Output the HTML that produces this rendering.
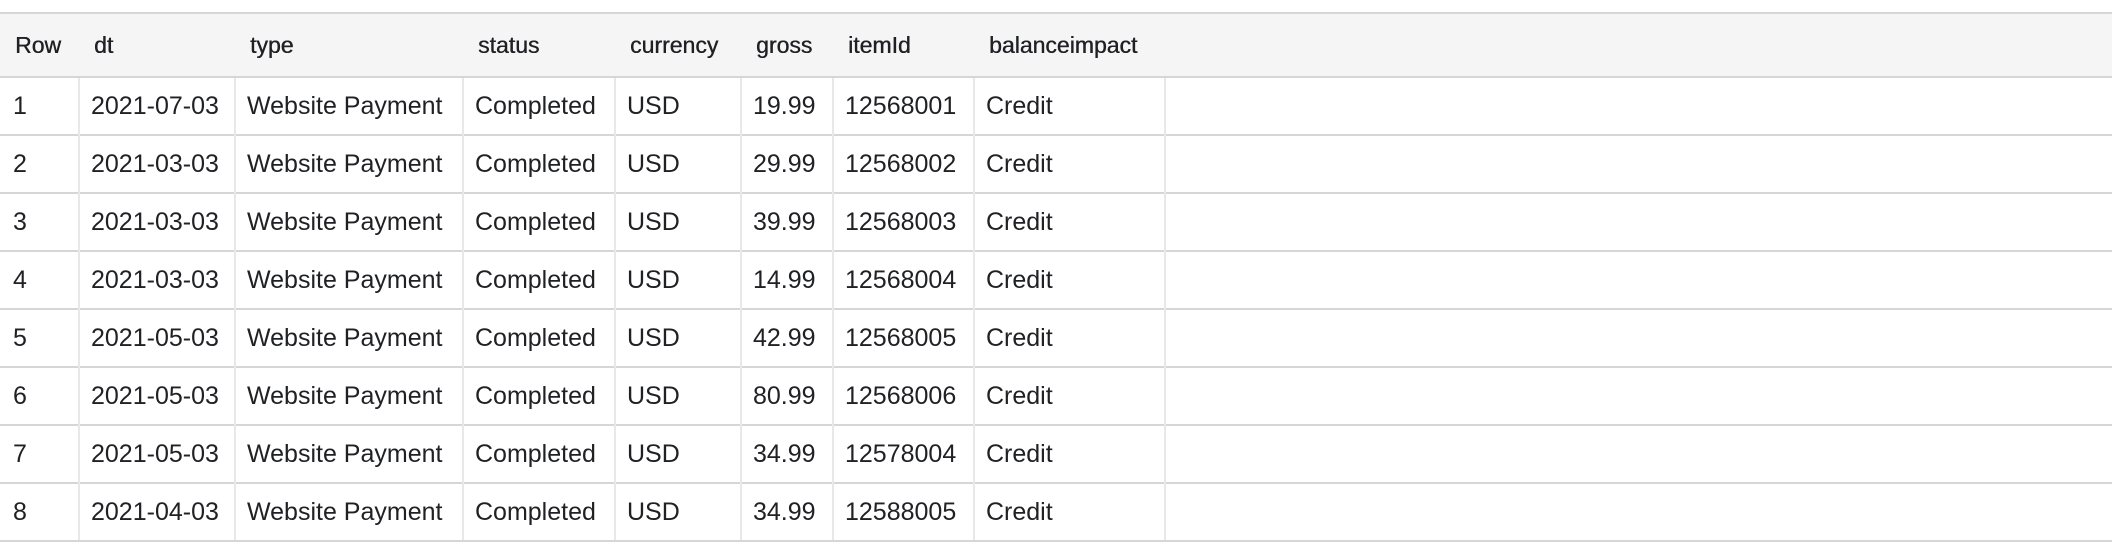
<!DOCTYPE html>
<html><head><meta charset="utf-8"><style>
body{margin:0;width:2112px;height:556px;background:#fff;position:relative;overflow:hidden;font-family:"Liberation Sans",sans-serif;color:#202124}
.hl{position:absolute;left:0;width:2112px;height:2px;background:#d6d6d6}
.vl{position:absolute;width:2px;background:#e8e8e8}
.c{position:absolute;font-size:25px;line-height:58px;white-space:nowrap}
.h{position:absolute;font-size:23px;line-height:64px;top:13px;font-weight:normal;text-shadow:0.4px 0 0 #202124}
</style></head><body>
<div style="position:absolute;left:0;top:13px;width:2112px;height:64px;background:#f5f5f5"></div>
<div id="t"></div>
<script>
const headers=["Row","dt","type","status","currency","gross","itemId","balanceimpact"];
const rows=[
["1","2021-07-03","Website Payment","Completed","USD","19.99","12568001","Credit"],
["2","2021-03-03","Website Payment","Completed","USD","29.99","12568002","Credit"],
["3","2021-03-03","Website Payment","Completed","USD","39.99","12568003","Credit"],
["4","2021-03-03","Website Payment","Completed","USD","14.99","12568004","Credit"],
["5","2021-05-03","Website Payment","Completed","USD","42.99","12568005","Credit"],
["6","2021-05-03","Website Payment","Completed","USD","80.99","12568006","Credit"],
["7","2021-05-03","Website Payment","Completed","USD","34.99","12578004","Credit"],
["8","2021-04-03","Website Payment","Completed","USD","34.99","12588005","Credit"]];
const colX=[0,79,235,463,615,741,833,974,1165];
const t=document.getElementById('t');
function add(cls,style,txt){const d=document.createElement('div');d.className=cls;d.style.cssText=style;if(txt!==undefined)d.textContent=txt;t.appendChild(d);return d;}
let l=add('hl','top:12px');


headers.forEach((h,i)=>{const d=add('h','left:'+(colX[i]+15)+'px',h);

});
for(let r=0;r<=rows.length;r++){const y=76+58*r;const d=add('hl','top:'+y+'px');

}
for(let i=1;i<colX.length;i++){const d=add('vl','left:'+(colX[i]-1)+'px;top:78px;height:'+(58*rows.length-2)+'px');

}
rows.forEach((row,r)=>{row.forEach((v,i)=>{const d=add('c','left:'+(colX[i]+(i==0?13:12))+'px;top:'+(77+58*r)+'px',v);

});});
</script>
</body></html>
